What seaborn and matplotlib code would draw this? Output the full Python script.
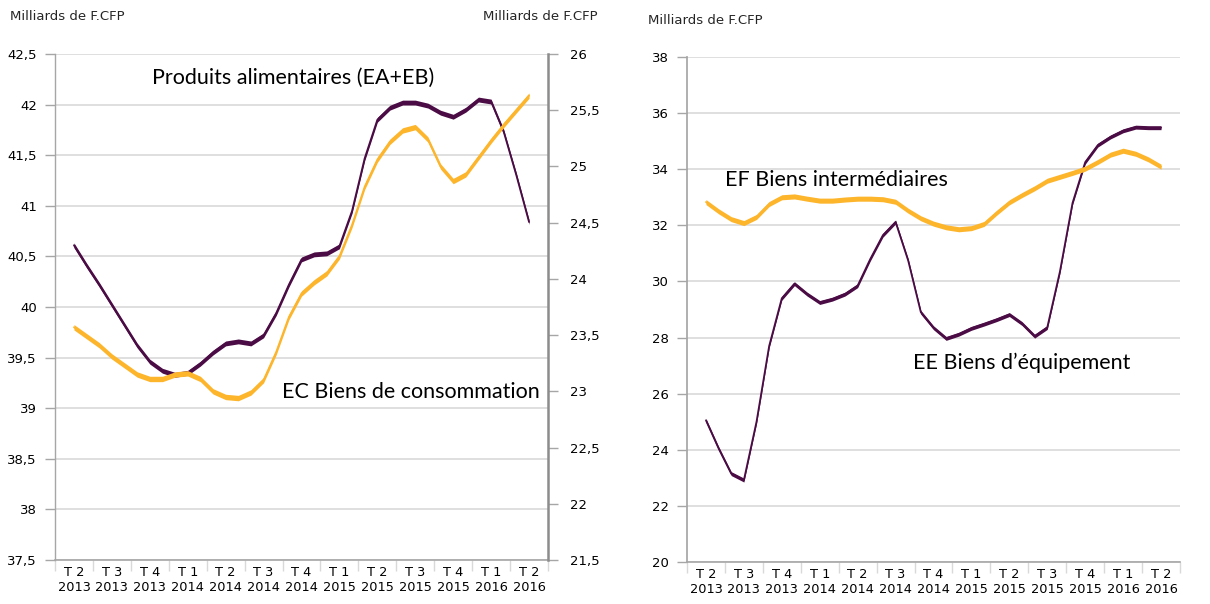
import numpy as np
import pandas as pd
import matplotlib
matplotlib.use("Agg")
import matplotlib.pyplot as plt
import seaborn as sns
from matplotlib.ticker import FixedLocator, FuncFormatter, NullFormatter

# ---------------- data (monthly readings, mid T2 2013 -> mid T2 2016) ----------------
quarters = ["T 2\n2013", "T 3\n2013", "T 4\n2013", "T 1\n2014", "T 2\n2014", "T 3\n2014",
            "T 4\n2014", "T 1\n2015", "T 2\n2015", "T 3\n2015", "T 4\n2015", "T 1\n2016",
            "T 2\n2016"]

# Produits alimentaires (EA+EB) - left axis
alimentaires = [40.61, 40.41, 40.22, 40.02, 39.82, 39.62, 39.46, 39.37, 39.33, 39.35,
                39.44, 39.55, 39.64, 39.66, 39.64, 39.72, 39.94, 40.22, 40.47, 40.52,
                40.53, 40.60, 40.95, 41.47, 41.85, 41.97, 42.02, 42.02, 41.99, 41.92,
                41.88, 41.95, 42.05, 42.03, 41.73, 41.30, 40.84]

# EC Biens de consommation - right axis
consommation = [23.57, 23.49, 23.41, 23.31, 23.23, 23.15, 23.11, 23.11, 23.15, 23.16,
                23.11, 23.00, 22.95, 22.94, 22.99, 23.10, 23.35, 23.66, 23.87, 23.97,
                24.05, 24.20, 24.48, 24.82, 25.06, 25.22, 25.32, 25.35, 25.24, 25.00,
                24.87, 24.93, 25.08, 25.23, 25.37, 25.50, 25.63]

# EE Biens d'équipement
equipement = [25.05, 24.05, 23.15, 22.92, 25.00, 27.70, 29.40, 29.92, 29.55, 29.25,
              29.37, 29.55, 29.85, 30.80, 31.65, 32.12, 30.74, 28.90, 28.35, 27.97,
              28.12, 28.33, 28.48, 28.64, 28.82, 28.50, 28.05, 28.36, 30.35, 32.80,
              34.25, 34.86, 35.15, 35.37, 35.50, 35.48, 35.48]

# EF Biens intermédiaires
intermediaires = [32.83, 32.50, 32.22, 32.08, 32.30, 32.76, 33.00, 33.03, 32.95, 32.88,
                  32.88, 32.92, 32.95, 32.95, 32.93, 32.84, 32.52, 32.25, 32.06, 31.93,
                  31.86, 31.90, 32.05, 32.45, 32.82, 33.08, 33.32, 33.59, 33.73, 33.87,
                  34.02, 34.26, 34.52, 34.66, 34.55, 34.35, 34.09]

left_ticks = [37.5, 38, 38.5, 39, 39.5, 40, 40.5, 41, 41.5, 42, 42.5]
right_ticks = [21.5, 22, 22.5, 23, 23.5, 24, 24.5, 25, 25.5, 26]
r_ticks = [20, 22, 24, 26, 28, 30, 32, 34, 36, 38]

PURPLE = "#4b0c45"
ORANGE = "#fdb52c"
GRID = "#d9d9d9"
SPINE = "#a6a6a6"

sns.set_theme(style="white")
plt.rcParams["font.family"] = ["DejaVu Sans"]

W, H = 1210, 604
fig = plt.figure(figsize=(W / 100, H / 100), dpi=100)

def fx(px):
    return px / W

def fy(py):
    return 1 - py / H

axL = fig.add_axes([fx(55), fy(560), (548 - 55) / W, (560 - 54) / H])
axL2 = axL.twinx()
axR = fig.add_axes([fx(687), fy(562), (1180 - 687) / W, (562 - 57) / H])

pos = np.arange(len(alimentaires)) / 3.0


def draw(ax, values, color, lw, half):
    df = pd.DataFrame({"pos": pos, "val": values})
    sns.lineplot(data=df, x="pos", y="val", ax=ax, color=color, lw=lw, zorder=3)
    ax.fill_between(df["pos"], df["val"] - half, df["val"] + half, color=color, lw=0, zorder=3)
    ax.set_xlabel("")
    ax.set_ylabel("")


comma = FuncFormatter(lambda v, p: f"{v:g}".replace(".", ","))


def style_x(ax):
    ax.set_xlim(-0.5, 12.5)
    ax.xaxis.set_major_locator(FixedLocator(np.arange(-0.5, 12.6, 1)))
    ax.xaxis.set_major_formatter(NullFormatter())
    ax.xaxis.set_minor_locator(FixedLocator(np.arange(0, 13)))
    ax.xaxis.set_minor_formatter(FuncFormatter(lambda v, p: quarters[int(round(v))]))
    ax.tick_params(axis="x", which="major", length=8, width=1, color=GRID, direction="out", bottom=True)
    ax.tick_params(axis="x", which="minor", length=0, pad=4, labelsize=9.3, labelcolor="black", bottom=True)


# ---------------- left chart ----------------
draw(axL, alimentaires, PURPLE, 1.3, 0.024)
draw(axL2, consommation, ORANGE, 1.3, 0.024)

axL.set_ylim(37.5, 42.5)
axL.set_yticks(left_ticks)
axL.yaxis.set_major_formatter(comma)
axL2.set_ylim(21.5, 26)
axL2.set_yticks(right_ticks)
axL2.yaxis.set_major_formatter(comma)
style_x(axL)
axL2.set_xlim(-0.5, 12.5)

axL.grid(axis="y", color=GRID, lw=1.2)
axL.grid(axis="x", visible=False)
axL2.grid(False)
axL.set_axisbelow(True)

for s in ["top", "right"]:
    axL.spines[s].set_visible(False)
for s in ["top", "left", "bottom"]:
    axL2.spines[s].set_visible(False)
axL.spines["left"].set_color(SPINE)
axL.spines["bottom"].set_color(SPINE)
axL.spines["left"].set_linewidth(1)
axL.spines["bottom"].set_linewidth(1.2)
axL2.spines["right"].set_color("#8c8c8c")
axL2.spines["right"].set_linewidth(1.8)

axL.tick_params(axis="y", length=7, width=1, color=SPINE, direction="out", left=True, pad=6,
                labelsize=9.5, labelcolor="black")
axL2.tick_params(axis="y", length=7, width=1, color=SPINE, direction="out", right=True, pad=9,
                 labelsize=9.5, labelcolor="black")

# ---------------- right chart ----------------
draw(axR, equipement, PURPLE, 1.3, 0.07)
draw(axR, intermediaires, ORANGE, 1.3, 0.09)
axR.set_ylim(20, 38)
axR.set_yticks(r_ticks)
style_x(axR)
axR.grid(axis="y", color=GRID, lw=1.2)
axR.grid(axis="x", visible=False)
axR.set_axisbelow(True)
for s in ["top", "right"]:
    axR.spines[s].set_visible(False)
axR.spines["left"].set_color(SPINE)
axR.spines["bottom"].set_color(SPINE)
axR.spines["bottom"].set_linewidth(1.2)
axR.tick_params(axis="y", length=7, width=1, color=SPINE, direction="out", left=True, pad=6,
                labelsize=9.5, labelcolor="black")

# ---------------- texts ----------------
fig.text(fx(10), fy(17), "Milliards de F.CFP", fontsize=9.5, va="center", ha="left")
fig.text(fx(598), fy(17), "Milliards de F.CFP", fontsize=9.5, va="center", ha="right")
fig.text(fx(648), fy(20), "Milliards de F.CFP", fontsize=9.5, va="center", ha="left")

ann = dict(fontsize=15.5, family=["Lato", "DejaVu Sans"], va="center", ha="left", color="black")
fig.text(fx(152), fy(78), "Produits alimentaires (EA+EB)", **ann)
fig.text(fx(282), fy(392), "EC Biens de consommation", **ann)
fig.text(fx(725), fy(180), "EF Biens intermédiaires", **ann)
fig.text(fx(913), fy(363), "EE Biens d\u2019équipement", **ann)

fig.savefig("out.png", dpi=100, facecolor="white")
